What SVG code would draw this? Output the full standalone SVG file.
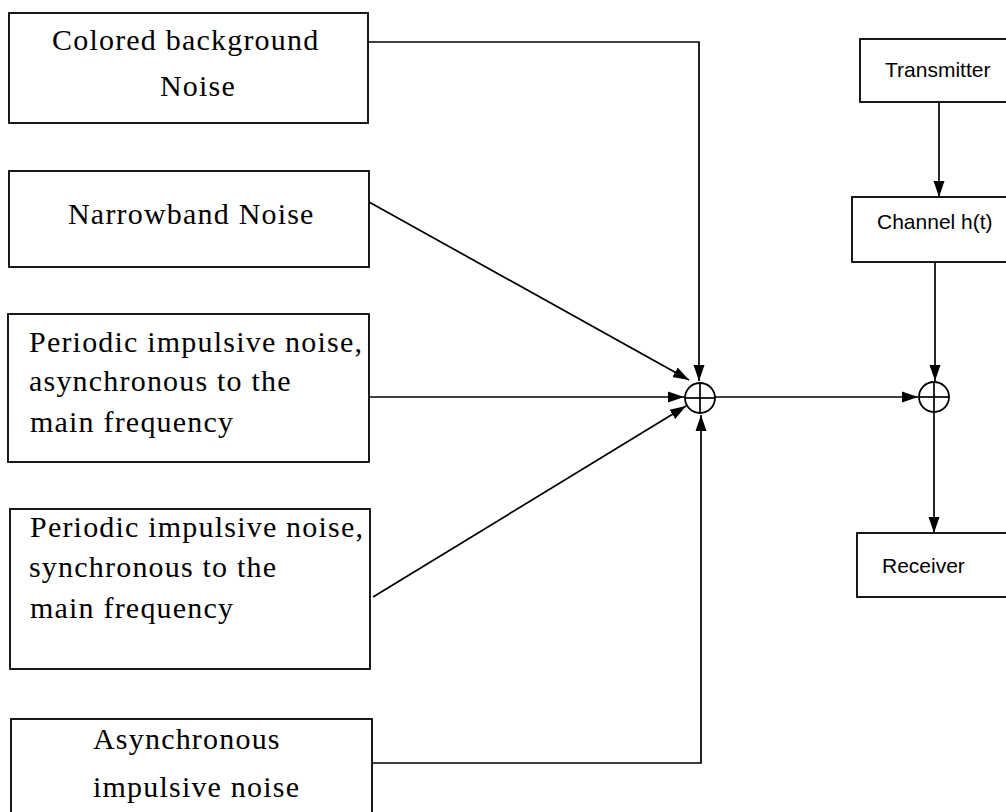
<svg xmlns="http://www.w3.org/2000/svg" width="1006" height="812" viewBox="0 0 1006 812">
<style>
.box{fill:#fff;stroke:#000;stroke-width:1.8}
.serif{font-family:"Liberation Serif","Times New Roman",serif;font-size:30px;letter-spacing:1.2px;fill:#000}
.sans{font-family:"Liberation Sans",Arial,sans-serif;font-size:21px;fill:#000}
.ln{fill:none;stroke:#000;stroke-width:1.7}
.sum{fill:#fff;stroke:#000;stroke-width:1.8}
</style>
<defs>
<marker id="ah" markerUnits="userSpaceOnUse" markerWidth="17" markerHeight="12" refX="16" refY="6" orient="auto">
<path d="M0,0.5 L16,6 L0,11.5 z" fill="#000"/>
</marker>
</defs>
<rect width="1006" height="812" fill="#fff"/>
<g id="connectors">
<polyline class="ln" points="368,42 699,42 699,381" marker-end="url(#ah)"/>
<line class="ln" x1="369" y1="202" x2="689" y2="380" marker-end="url(#ah)"/>
<line class="ln" x1="369" y1="397" x2="684" y2="397" marker-end="url(#ah)"/>
<line class="ln" x1="373" y1="597" x2="686" y2="406" marker-end="url(#ah)"/>
<polyline class="ln" points="371,763 701,763 701,415" marker-end="url(#ah)"/>
<line class="ln" x1="715" y1="397" x2="918" y2="397" marker-end="url(#ah)"/>
<line class="ln" x1="939" y1="102" x2="939" y2="197" marker-end="url(#ah)"/>
<line class="ln" x1="935" y1="262" x2="935" y2="381" marker-end="url(#ah)"/>
<line class="ln" x1="934" y1="412" x2="934" y2="533" marker-end="url(#ah)"/>
</g>
<g id="n1">
<rect class="box" x="9" y="13" width="359" height="110"/>
<text class="serif" x="52" y="50">Colored background</text>
<text class="serif" x="160" y="96">Noise</text>
</g>
<g id="n2">
<rect class="box" x="9" y="171" width="360" height="96"/>
<text class="serif" x="68" y="224">Narrowband Noise</text>
</g>
<g id="n3">
<rect class="box" x="8" y="314" width="361" height="148"/>
<text class="serif" x="29" y="352">Periodic impulsive noise,</text>
<text class="serif" x="29" y="391">asynchronous to the</text>
<text class="serif" x="30" y="432">main frequency</text>
</g>
<g id="n4">
<rect class="box" x="10" y="509" width="360" height="160"/>
<text class="serif" x="30" y="537">Periodic impulsive noise,</text>
<text class="serif" x="29" y="577">synchronous to the</text>
<text class="serif" x="30" y="618">main frequency</text>
</g>
<g id="n5">
<rect class="box" x="11" y="719" width="361" height="110"/>
<text class="serif" x="93" y="749">Asynchronous</text>
<text class="serif" x="93" y="797">impulsive noise</text>
</g>
<g id="sum1">
<circle class="sum" cx="700" cy="398" r="15"/>
<line class="ln" x1="686" y1="398" x2="714" y2="398"/>
<line class="ln" x1="700" y1="384" x2="700" y2="412"/>
</g>
<g id="sum2">
<circle class="sum" cx="934" cy="397" r="15"/>
<line class="ln" x1="920" y1="397" x2="948" y2="397"/>
<line class="ln" x1="934" y1="383" x2="934" y2="411"/>
</g>
<g id="transmitter">
<rect class="box" x="860" y="39" width="160" height="63"/>
<text class="sans" x="885" y="77">Transmitter</text>
</g>
<g id="channel">
<rect class="box" x="852" y="197" width="170" height="65"/>
<text class="sans" x="877" y="229">Channel h(t)</text>
</g>
<g id="receiver">
<rect class="box" x="857" y="533" width="165" height="64"/>
<text class="sans" x="882" y="573">Receiver</text>
</g>
</svg>
